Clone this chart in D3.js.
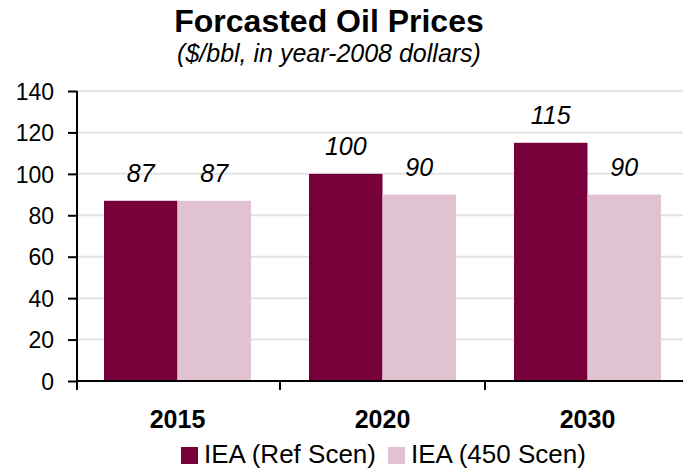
<!DOCTYPE html>
<meta charset="utf-8">
<script src="https://cdn.jsdelivr.net/npm/d3@7"></script>
<style>
body { margin: 0; background: #fff; }
text { font-family: "Liberation Sans", Arial, sans-serif; fill: #000; }
.grid line { stroke: #e4e4e4; stroke-width: 2px; }
</style>
<body>
<script>

var years = ["2015", "2020", "2030"];
var refScen = [87, 100, 115];
var scen450 = [87, 90, 90];
var seriesNames = ["IEA (Ref Scen)", "IEA (450 Scen)"];
var colors = ["#78003a", "#e0c2d0"];
var yTicks = [0, 20, 40, 60, 80, 100, 120, 140];

var width = 683, height = 470;
var plotLeft = 77, plotRight = 690, plotTop = 91, plotBottom = 381;
var groupW = 147;

var svg = d3.select("body").append("svg")
    .attr("width", width)
    .attr("height", height);

var x = d3.scaleBand().domain(years).range([plotLeft - 2, plotRight]);
var sx = d3.scaleBand().domain([0, 1]).range([0, groupW]);
var y = d3.scaleLinear().domain([0, 140]).range([plotBottom, plotTop]);

// gridlines
svg.append("g")
    .attr("class", "grid")
  .selectAll("line")
    .data(yTicks.slice(1))
  .enter().append("line")
    .attr("x1", plotLeft)
    .attr("x2", width)
    .attr("y1", function(d) { return y(d); })
    .attr("y2", function(d) { return y(d); });

var rows = years.map(function(yr, i) { return [refScen[i], scen450[i]]; });

var groups = svg.append("g").selectAll("g")
    .data(rows)
  .enter().append("g")
    .attr("transform", function(d, i) {
      return "translate(" + (x(years[i]) + (x.bandwidth() - groupW) / 2) + ",0)";
    });

groups.selectAll("rect")
    .data(function(d) { return d; })
  .enter().append("rect")
    .attr("x", function(d, j) { return sx(j); })
    .attr("width", sx.bandwidth())
    .attr("y", function(d) { return y(d); })
    .attr("height", function(d) { return plotBottom - y(d); })
    .attr("fill", function(d, j) { return colors[j]; });

groups.selectAll("text")
    .data(function(d) { return d; })
  .enter().append("text")
    .attr("x", function(d, j) { return sx(j) + sx.bandwidth() / 2; })
    .attr("y", function(d) { return y(d) - 19; })
    .attr("text-anchor", "middle")
    .style("font-size", "25px")
    .style("font-style", "italic")
    .text(function(d) { return d; });

// y axis
var yAxis = svg.append("g")
    .attr("transform", "translate(" + plotLeft + ",0)")
    .call(d3.axisLeft(y).tickValues(yTicks).tickSize(9).tickPadding(14));
yAxis.selectAll("text").style("font-size", "23px").attr("dy", "0.36em");
yAxis.selectAll("line").attr("stroke", "#000").attr("stroke-width", 2);
yAxis.select(".domain").attr("stroke", "#000").attr("stroke-width", 2)
    .attr("d", "M0," + plotTop + "V" + (plotBottom + 9));

// x axis
var xAxis = svg.append("g")
    .attr("transform", "translate(0," + plotBottom + ")")
    .call(d3.axisBottom(x).tickSize(0).tickPadding(0));
xAxis.select(".domain").attr("stroke", "#000").attr("stroke-width", 2)
    .attr("d", "M" + plotLeft + ",0H" + width);
xAxis.selectAll(".tick line").remove();
xAxis.selectAll("text")
    .attr("y", 47)
    .attr("dy", 0)
    .style("font-size", "25px")
    .style("font-weight", "bold");

svg.append("g").selectAll("line")
    .data(years.slice(1))
  .enter().append("line")
    .attr("x1", function(d) { return x(d); })
    .attr("x2", function(d) { return x(d); })
    .attr("y1", plotBottom)
    .attr("y2", plotBottom + 9)
    .attr("stroke", "#000")
    .attr("stroke-width", 2);

// title
svg.append("text")
    .attr("x", 329)
    .attr("y", 32)
    .attr("text-anchor", "middle")
    .style("font-size", "32px")
    .style("font-weight", "bold")
    .text("Forcasted Oil Prices");

svg.append("text")
    .attr("x", 329)
    .attr("y", 62)
    .attr("text-anchor", "middle")
    .style("font-size", "25px")
    .style("font-style", "italic")
    .text("($/bbl, in year-2008 dollars)");

// legend
var legendX = [181, 388];
var legend = svg.append("g").selectAll("g")
    .data(seriesNames)
  .enter().append("g")
    .attr("transform", function(d, i) { return "translate(" + legendX[i] + ",447)"; });

legend.append("rect")
    .attr("width", 17)
    .attr("height", 17)
    .attr("fill", function(d, i) { return colors[i]; });

legend.append("text")
    .attr("x", 23)
    .attr("y", 16)
    .style("font-size", "26px")
    .text(function(d) { return d; });

</script>
</body>
